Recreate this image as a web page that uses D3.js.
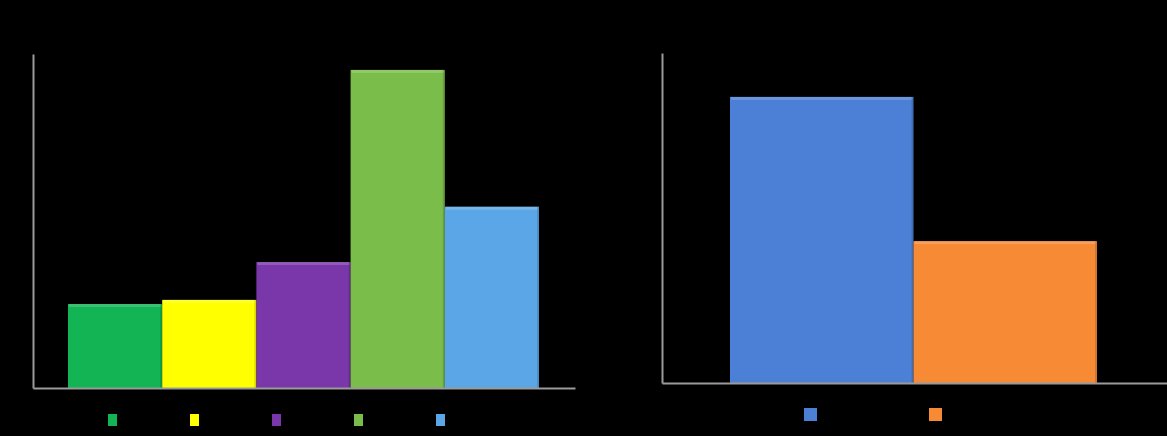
<!DOCTYPE html>
<html>
<head>
<meta charset="utf-8">
<script src="https://cdn.jsdelivr.net/npm/d3@7"></script>
<style>
html,body{margin:0;padding:0;background:#000;}
svg{display:block;}
</style>
</head>
<body>
<svg id="chart" width="1167" height="436"></svg>
<script>
// Left chart data
const leftSeries = ["S1", "S2", "S3", "S4", "S5"];
const leftValues = [26.4, 27.7, 39.6, 100, 57];
const leftColors = ["#12b453", "#ffff00", "#7a37aa", "#7bbd4a", "#5ba6e6"];

// Right chart data
const rightSeries = ["R1", "R2"];
const rightValues = [86.7, 43];
const rightColors = ["#4c80d6", "#f78a35"];

const svg = d3.select("#chart");
svg.append("rect").attr("width", 1167).attr("height", 436).attr("fill", "#000");

function drawPanel(cfg) {
  const g = svg.append("g");
  const x = d3.scaleBand().domain(cfg.series).range(cfg.barRange).padding(0);
  const y = d3.scaleLinear().domain([0, cfg.max]).range([cfg.base, cfg.top]);

  const bars = g.selectAll("g.bar").data(cfg.series).join("g").attr("class", "bar");
  bars.append("rect")
    .attr("x", d => x(d))
    .attr("y", (d, i) => y(cfg.values[i]))
    .attr("width", x.bandwidth())
    .attr("height", (d, i) => cfg.base - y(cfg.values[i]))
    .attr("fill", (d, i) => cfg.colors[i]);
  // subtle top highlight
  bars.append("rect")
    .attr("x", d => x(d) + 1)
    .attr("y", (d, i) => y(cfg.values[i]))
    .attr("width", x.bandwidth() - 2)
    .attr("height", 3)
    .attr("fill", "#fff")
    .attr("opacity", 0.18);
  // subtle right edge shade
  bars.append("rect")
    .attr("x", d => x(d) + x.bandwidth() - 2)
    .attr("y", (d, i) => y(cfg.values[i]))
    .attr("width", 2)
    .attr("height", (d, i) => cfg.base - y(cfg.values[i]))
    .attr("fill", "#000")
    .attr("opacity", 0.15);

  // axes
  const yAxis = d3.axisLeft(y).tickValues([]).tickSizeOuter(0);
  g.append("g").attr("transform", `translate(${cfg.axisX},0)`).call(yAxis)
    .call(s => s.select(".domain").attr("stroke", "#9a9a9a").attr("stroke-width", 2));
  const xAxisScale = d3.scaleLinear().domain([0, 1]).range([cfg.axisX, cfg.axisEnd]);
  const xAxis = d3.axisBottom(xAxisScale).tickValues([]).tickSizeOuter(0);
  g.append("g").attr("transform", `translate(0,${cfg.base})`).call(xAxis)
    .call(s => s.select(".domain").attr("stroke", "#9a9a9a").attr("stroke-width", 2));

  // legend squares
  const lg = g.selectAll("rect.leg").data(cfg.series).join("rect").attr("class", "leg")
    .attr("x", (d, i) => cfg.legX + i * cfg.legStep)
    .attr("y", cfg.legY)
    .attr("width", cfg.legW)
    .attr("height", cfg.legH)
    .attr("fill", (d, i) => cfg.colors[i]);
}

drawPanel({
  series: leftSeries, values: leftValues, colors: leftColors,
  barRange: [68, 539], max: 105, base: 388, top: 54,
  axisX: 33, axisEnd: 575,
  legX: 108, legStep: 82, legY: 414, legW: 9, legH: 12
});

drawPanel({
  series: rightSeries, values: rightValues, colors: rightColors,
  barRange: [730, 1097], max: 100, base: 383, top: 53,
  axisX: 662, axisEnd: 1167,
  legX: 804, legStep: 125, legY: 408, legW: 13, legH: 13
});
</script>
</body>
</html>
